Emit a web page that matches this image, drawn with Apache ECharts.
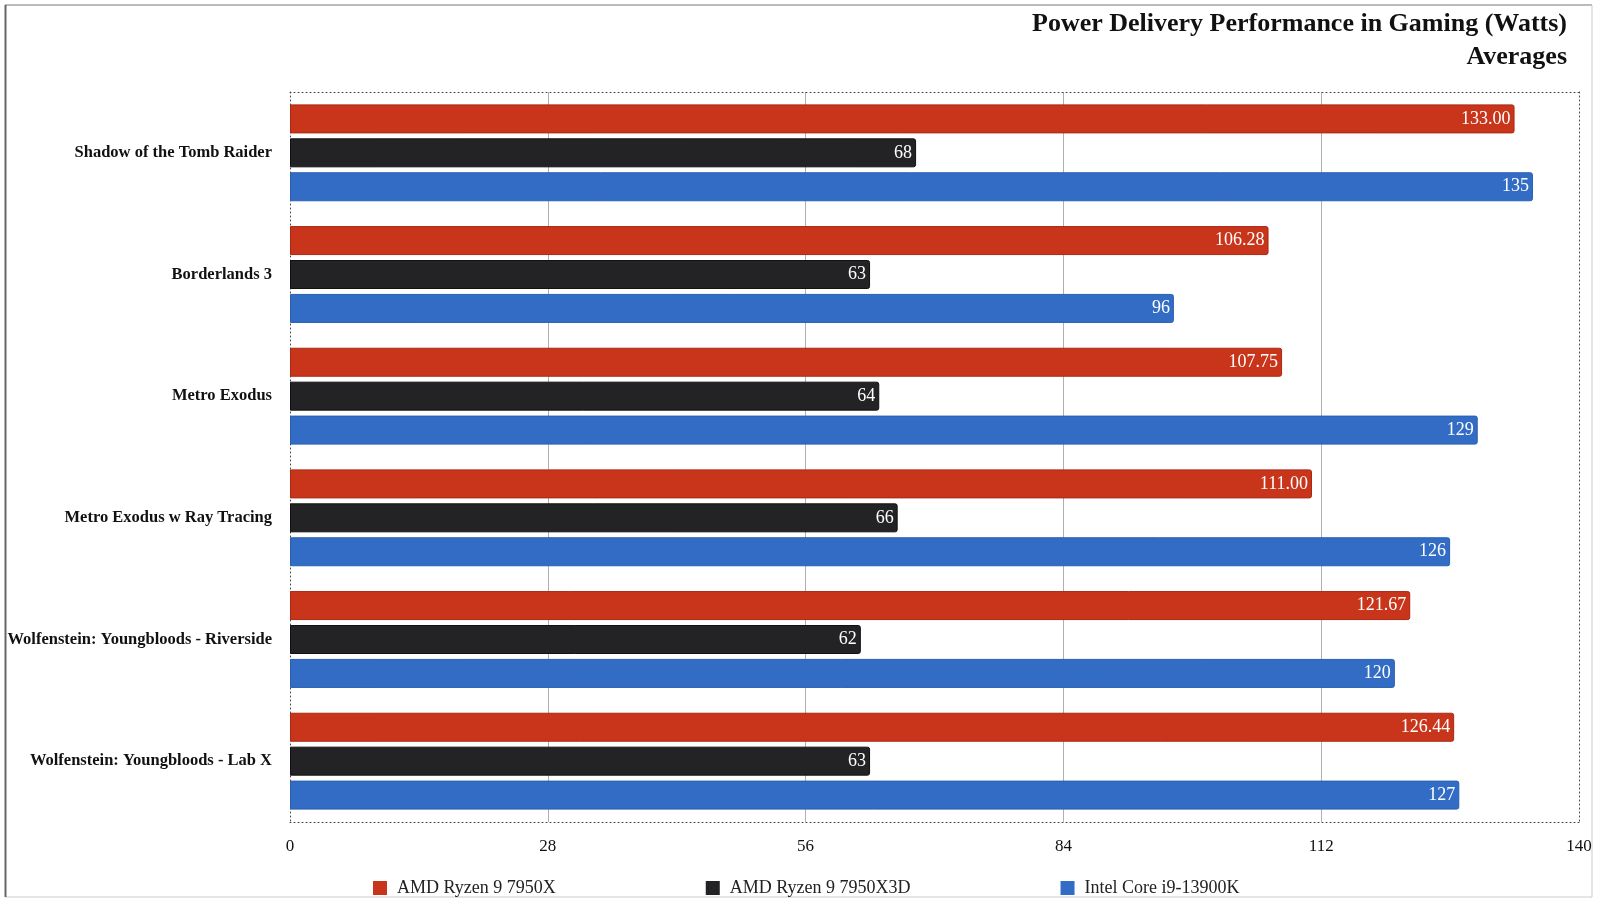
<!DOCTYPE html>
<html>
<head>
<meta charset="utf-8">
<script src="https://cdn.jsdelivr.net/npm/echarts@6/dist/echarts.min.js"></script>
<style>html,body{margin:0;padding:0;background:#fff;}#c{width:1600px;height:903px;}</style>
</head>
<body>
<div id="c"></div>
<script>
const categories = ["Shadow of the Tomb Raider", "Borderlands 3", "Metro Exodus", "Metro Exodus w Ray Tracing", "Wolfenstein: Youngbloods - Riverside", "Wolfenstein: Youngbloods - Lab X"];
const ryzen7950X = [133.00, 106.28, 107.75, 111.00, 121.67, 126.44];
const ryzen7950X3D = [68, 63, 64, 66, 62, 63];
const intel13900K = [135, 96, 129, 126, 120, 127];
const seriesNames = ["AMD Ryzen 9 7950X", "AMD Ryzen 9 7950X3D", "Intel Core i9-13900K"];
const xTicks = {min: 0, max: 140, interval: 28};

const FONT = "'Liberation Serif', 'DejaVu Serif', serif";
const DOT = [1, 3];
const chart = echarts.init(document.getElementById('c'));

function barSeries(name, data, color, border, fmt) {
  return {
    name: name, type: 'bar', data: data,
    barWidth: 29, barGap: '17%',
    itemStyle: {color: color, borderColor: border, borderWidth: 1, borderRadius: [0, 2, 2, 0]},
    label: {show: true, position: 'insideRight', distance: 4, color: '#fff', fontFamily: FONT, fontSize: 18, padding: [4, 0, 0, 0], formatter: fmt},
    emphasis: {disabled: true}
  };
}

const titleStyle = {fontFamily: FONT, fontWeight: 'bold', fontSize: 26, color: '#111'};

chart.setOption({
  animation: false,
  backgroundColor: '#fff',
  title: [
    {text: 'Power Delivery Performance in Gaming (Watts)', right: 28, top: 6, textStyle: titleStyle},
    {text: 'Averages', right: 28, top: 39, textStyle: titleStyle}
  ],
  legend: {
    left: 368, top: 874,
    itemWidth: 14, itemHeight: 14, itemGap: 150,
    icon: 'rect',
    itemStyle: {borderWidth: 0},
    textStyle: {fontFamily: FONT, fontSize: 18, color: '#222', padding: [0, 0, 0, 5]},
    data: seriesNames
  },
  grid: {left: 290, right: 21, top: 92, bottom: 81, containLabel: false, outerBoundsMode: 'none'},
  xAxis: [{
    type: 'value', min: xTicks.min, max: xTicks.max, interval: xTicks.interval,
    position: 'bottom',
    axisLine: {show: true, lineStyle: {color: '#444', type: DOT, width: 1}},
    axisTick: {show: false},
    axisLabel: {fontFamily: FONT, fontSize: 17, color: '#111', margin: 16},
    splitLine: {show: true, showMinLine: false, showMaxLine: false, lineStyle: {color: '#b0b0b0', width: 1}}
  }, {
    type: 'value', min: xTicks.min, max: xTicks.max, interval: xTicks.interval,
    position: 'top',
    axisLine: {show: true, onZero: false, lineStyle: {color: '#444', type: DOT, width: 1}},
    axisTick: {show: false}, axisLabel: {show: false}, splitLine: {show: false}
  }],
  yAxis: [{
    type: 'category', data: categories, inverse: true,
    axisLine: {show: true, lineStyle: {color: '#444', type: DOT, width: 1}},
    axisTick: {show: false},
    axisLabel: {fontFamily: FONT, fontWeight: 'bold', fontSize: 16.5, color: '#111', margin: 18, padding: [4, 0, 0, 0]}
  }, {
    type: 'category', data: categories, inverse: true, position: 'right',
    axisLine: {show: true, onZero: false, lineStyle: {color: '#444', type: DOT, width: 1}},
    axisTick: {show: false}, axisLabel: {show: false}
  }],
  graphic: [
    {type: 'line', shape: {x1: 5, y1: 5, x2: 1592, y2: 5}, style: {stroke: '#bbb', lineWidth: 2}},
    {type: 'line', shape: {x1: 1592, y1: 5, x2: 1592, y2: 897}, style: {stroke: '#ccc', lineWidth: 1}},
    {type: 'line', shape: {x1: 5, y1: 897, x2: 1592, y2: 897}, style: {stroke: '#ccc', lineWidth: 1}},
    {type: 'line', shape: {x1: 5.5, y1: 5, x2: 5.5, y2: 897}, style: {stroke: '#666', lineWidth: 2}}
  ],
  series: [
    barSeries(seriesNames[0], ryzen7950X, '#C9351B', '#A92812', p => p.value.toFixed(2)),
    barSeries(seriesNames[1], ryzen7950X3D, '#232326', '#111', p => String(p.value)),
    barSeries(seriesNames[2], intel13900K, '#326CC5', '#2a5fb0', p => String(p.value))
  ]
});
</script>
</body>
</html>
